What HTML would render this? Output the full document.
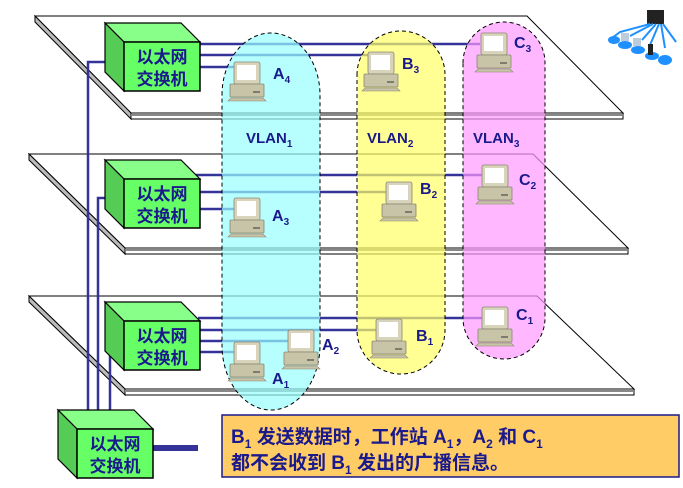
<!DOCTYPE html>
<html><head><meta charset="utf-8"><style>
body{margin:0;background:#fff;}
svg{display:block;}
.t{font-family:"Liberation Sans","Noto Sans CJK SC",sans-serif;font-weight:bold;fill:#1a1a8c;}
</style></head><body>
<svg width="683" height="488" viewBox="0 0 683 488" xmlns="http://www.w3.org/2000/svg">
<defs>
<g id="pc">
<rect x="4" y="0" width="26" height="22" rx="2" fill="#d8d4bc" stroke="#8a8670" stroke-width="0.8"/>
<rect x="7" y="3" width="19" height="15" fill="#fff"/>
<rect x="0" y="22" width="34" height="13" rx="1" fill="#c8c4a8" stroke="#8a8670" stroke-width="0.8"/>
<line x1="23" y1="30" x2="30" y2="30" stroke="#333" stroke-width="1"/>
<polygon points="1,36 33,36 36,39 -2,39" fill="#c8c4a8" stroke="#8a8670" stroke-width="0.6"/>
</g>
<g id="sw">
<polygon points="0,0 76,0 95,19 19,19" fill="#88ff88" stroke="#000" stroke-width="1.2"/>
<polygon points="0,0 19,19 19,68 0,49" fill="#55cc55" stroke="#000" stroke-width="1.2"/>
<rect x="19" y="19" width="76" height="49" fill="#66ff66" stroke="#000" stroke-width="1.5"/>
<text class="t" x="57" y="40" font-size="17" text-anchor="middle">以太网</text>
<text class="t" x="57" y="62" font-size="17" text-anchor="middle">交换机</text>
</g>
</defs>

<!-- planes -->
<g stroke="#000" stroke-width="1">
<polygon points="35,16 527,16 623,113 131,113" fill="#fff"/>
<polygon points="35,16 131,113 131,119 35,22" fill="#bbb"/>
<rect x="131" y="113" width="492" height="6" fill="#fff"/>
<line x1="131" y1="115" x2="623" y2="115" stroke="#888" stroke-width="2"/>
<polygon points="29,154 533,154 628,248 125,248" fill="#fff"/>
<polygon points="29,154 125,248 125,254 29,160" fill="#bbb"/>
<rect x="125" y="248" width="503" height="6" fill="#fff"/>
<line x1="125" y1="250" x2="628" y2="250" stroke="#888" stroke-width="2"/>
<polygon points="29,296 537,296 634,389 125,389" fill="#fff"/>
<polygon points="29,296 125,389 125,395 29,302" fill="#bbb"/>
<rect x="125" y="389" width="509" height="6" fill="#fff"/>
<line x1="125" y1="391" x2="634" y2="391" stroke="#888" stroke-width="2"/>
</g>

<!-- connection lines -->
<g stroke="#333399" stroke-width="2.5" fill="none">
<line x1="198" y1="44" x2="480" y2="44"/>
<line x1="198" y1="55" x2="368" y2="55"/>
<line x1="198" y1="67" x2="236" y2="67"/>
<line x1="195" y1="175" x2="482" y2="175"/>
<line x1="198" y1="192" x2="386" y2="192"/>
<line x1="198" y1="209" x2="236" y2="209"/>
<line x1="198" y1="318" x2="485" y2="318"/>
<line x1="198" y1="330" x2="379" y2="330"/>
<line x1="198" y1="341" x2="290" y2="341"/>
<line x1="198" y1="352" x2="236" y2="352"/>
<polyline points="122,62 88,62 88,410"/>
<polyline points="122,198 98,198 98,410"/>
<polyline points="122,345 110,345 110,410"/>
</g>
<line x1="151" y1="448" x2="198" y2="448" stroke="#333399" stroke-width="6"/>

<!-- vlans -->
<g stroke="#000" stroke-width="1" stroke-dasharray="4,3">
<path d="M222,95 A49,62 0 0 1 320,95 L320,345 A49,65 0 0 1 222,345 Z" fill="#99ffff" fill-opacity="0.7"/>
<path d="M357,75 A44,44 0 0 1 445,75 L445,330 A44,44 0 0 1 357,330 Z" fill="#ffff66" fill-opacity="0.7"/>
<path d="M463,63 A41,41 0 0 1 545,63 L545,318 A41,41 0 0 1 463,318 Z" fill="#ff99ff" fill-opacity="0.7"/>
</g>

<!-- switches -->
<use href="#sw" x="105" y="23"/>
<use href="#sw" x="105" y="160"/>
<use href="#sw" x="105" y="302"/>
<use href="#sw" x="58" y="410"/>

<!-- pcs -->
<use href="#pc" x="230" y="62"/>
<use href="#pc" x="364" y="52"/>
<use href="#pc" x="477" y="33"/>
<use href="#pc" x="382" y="182"/>
<use href="#pc" x="478" y="165"/>
<use href="#pc" x="230" y="198"/>
<use href="#pc" x="478" y="307"/>
<use href="#pc" x="372" y="319"/>
<use href="#pc" x="284" y="330"/>
<use href="#pc" x="230" y="342"/>

<!-- labels -->
<g class="t" font-size="16">
<text x="273" y="79">A<tspan font-size="10" dy="4">4</tspan></text>
<text x="402" y="69">B<tspan font-size="10" dy="4">3</tspan></text>
<text x="514" y="48">C<tspan font-size="10" dy="4">3</tspan></text>
<text x="420" y="194">B<tspan font-size="10" dy="4">2</tspan></text>
<text x="519" y="185">C<tspan font-size="10" dy="4">2</tspan></text>
<text x="272" y="221">A<tspan font-size="10" dy="4">3</tspan></text>
<text x="516" y="320">C<tspan font-size="10" dy="4">1</tspan></text>
<text x="416" y="341">B<tspan font-size="10" dy="4">1</tspan></text>
<text x="322" y="350">A<tspan font-size="10" dy="4">2</tspan></text>
<text x="272" y="384">A<tspan font-size="10" dy="4">1</tspan></text>
<text x="246" y="143" font-size="15">VLAN<tspan font-size="10" dy="4">1</tspan></text>
<text x="367" y="143" font-size="15">VLAN<tspan font-size="10" dy="4">2</tspan></text>
<text x="473" y="143" font-size="15">VLAN<tspan font-size="10" dy="4">3</tspan></text>
</g>

<!-- network icon -->
<g>
<rect x="647" y="10" width="17" height="14" fill="#222"/>
<g stroke="#1e90ff" stroke-width="2" fill="none">
<path d="M650,24 L620,32 L612,38"/><path d="M653,24 L630,36"/><path d="M656,24 L642,40"/><path d="M659,24 L650,45"/><path d="M661,24 L665,48"/><path d="M663,24 L676,42"/>
</g>
<ellipse cx="614" cy="40" rx="6" ry="4" fill="#1e90ff"/>
<ellipse cx="625" cy="45" rx="7" ry="4" fill="#1e90ff"/>
<ellipse cx="638" cy="50" rx="7" ry="4" fill="#1e90ff"/>
<ellipse cx="652" cy="56" rx="7" ry="4" fill="#1e90ff"/>
<ellipse cx="665" cy="60" rx="7" ry="5" fill="#1e90ff"/>
<rect x="621" y="33" width="8" height="8" fill="#bcd"/><rect x="633" y="38" width="8" height="8" fill="#bcd"/>
<rect x="648" y="44" width="5" height="11" fill="#222"/>
</g>

<!-- text box -->
<rect x="222" y="415" width="457" height="62" fill="#ffcc66" stroke="#1a1a8c" stroke-width="1.5"/>
<g class="t" font-size="19" fill="#1a1aa0">
<text x="231" y="443">B<tspan font-size="12" dy="5">1</tspan><tspan dy="-5"> 发送数据时，工作站 A</tspan><tspan font-size="12" dy="5">1</tspan><tspan dy="-5">，A</tspan><tspan font-size="12" dy="5">2</tspan><tspan dy="-5"> 和 C</tspan><tspan font-size="12" dy="5">1</tspan></text>
<text x="231" y="469">都不会收到 B<tspan font-size="12" dy="5">1</tspan><tspan dy="-5"> 发出的广播信息。</tspan></text>
</g>
</svg>
</body></html>
